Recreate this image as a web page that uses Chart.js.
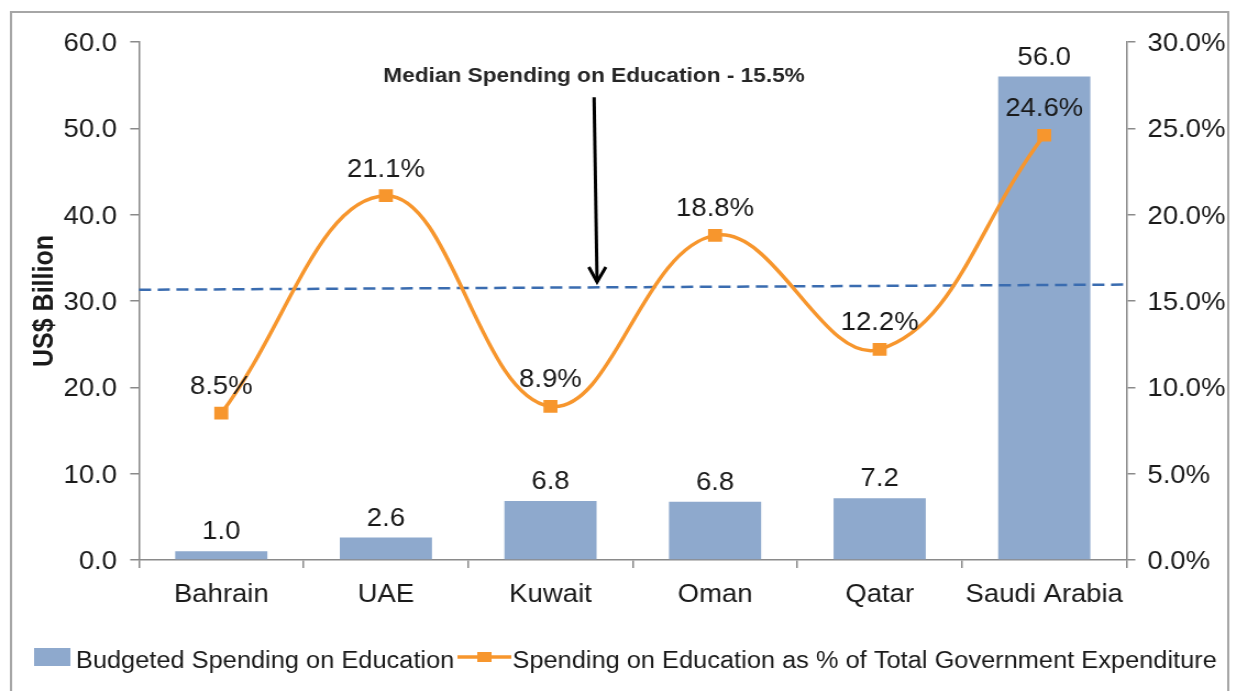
<!DOCTYPE html>
<html><head><meta charset="utf-8">
<script src="https://cdn.jsdelivr.net/npm/chart.js@4/dist/chart.umd.min.js"></script>
<style>
html,body{margin:0;padding:0;background:#fff;overflow:hidden;width:1236px;height:691px;}
#c{display:block;transform:scaleX(1.0996);transform-origin:0 0;}
</style></head><body>
<canvas id="c" width="1124" height="691"></canvas>
<script>
const categories = ['Bahrain', 'UAE', 'Kuwait', 'Oman', 'Qatar', 'Saudi Arabia'];
const spendingBillion = [1.0, 2.6, 6.84, 6.75, 7.15, 56.0];
const spendingPct = [8.5, 21.1, 8.9, 18.8, 12.2, 24.6];
const leftTicks = [0, 10, 20, 30, 40, 50, 60];
const rightTicks = [0, 5, 10, 15, 20, 25, 30];
const medianLine = [15.65, 15.95];
const medianLabel = 'Median Spending on Education - 15.5%';
const seriesNames = ['Budgeted Spending on Education', 'Spending on Education as % of Total Government Expenditure'];
const axisTitle = 'US$ Billion';

const FAM = "'Liberation Sans', Arial, Helvetica, sans-serif";
const TXT = '#1a1a1a';
const AX = '#8a8a8a';
const BLUE = '#8EA9CD';
const ORANGE = '#F7962D';
const tickFont = {family: FAM, size: 25};

const deco = {
  id: 'deco',
  beforeDraw(chart) {
    const ctx = chart.ctx;
    ctx.save();
    ctx.fillStyle = '#fff';
    ctx.fillRect(0, 0, chart.width, chart.height);
    ctx.strokeStyle = '#a6a6a6';
    ctx.lineWidth = 2;
    ctx.strokeRect(10, 12, 1107, 720);
    ctx.restore();
  },
  afterDatasetDraw(chart, args) {
    if (args.index !== 0) return;
    const ctx = chart.ctx, a = chart.chartArea, y1 = chart.scales.y1;
    ctx.save();
    ctx.strokeStyle = '#3A6CB0';
    ctx.lineWidth = 2.5;
    ctx.setLineDash([11, 6]);
    ctx.beginPath();
    ctx.moveTo(a.left, y1.getPixelForValue(medianLine[0]));
    ctx.lineTo(a.right, y1.getPixelForValue(medianLine[1]));
    ctx.stroke();
    ctx.restore();
  },
  afterDatasetsDraw(chart) {
    const ctx = chart.ctx;
    const x = chart.scales.x, y1 = chart.scales.y1;
    ctx.save();
    ctx.fillStyle = TXT;
    ctx.font = `25px ${FAM}`;
    ctx.textAlign = 'center';
    ctx.textBaseline = 'alphabetic';
    chart.getDatasetMeta(0).data.forEach((el, i) => {
      ctx.fillText(spendingBillion[i].toFixed(1), el.x, el.y - 12);
    });
    chart.getDatasetMeta(1).data.forEach((el, i) => {
      ctx.fillText(spendingPct[i].toFixed(1) + '%', el.x, el.y - 19);
    });
    // annotation text + arrow
    ctx.font = `bold 20.6px ${FAM}`;
    ctx.fillStyle = '#262626';
    ctx.fillText(medianLabel, x.getPixelForValue(2.265), y1.getPixelForValue(27.7));
    const ax0 = x.getPixelForValue(2.265), ay0 = y1.getPixelForValue(26.8);
    const ax1 = x.getPixelForValue(2.283), ay1 = y1.getPixelForValue(16.1);
    ctx.strokeStyle = '#000';
    ctx.lineWidth = 3;
    ctx.beginPath();
    ctx.moveTo(ax0, ay0); ctx.lineTo(ax1, ay1);
    ctx.stroke();
    ctx.beginPath();
    ctx.moveTo(ax1 - 7.5, ay1 - 15); ctx.lineTo(ax1, ay1); ctx.lineTo(ax1 + 8, ay1 - 15);
    ctx.stroke();
    // legend
    ctx.textAlign = 'left';
    ctx.font = `23.1px ${FAM}`;
    ctx.fillStyle = BLUE;
    ctx.fillRect(31, 648, 33, 18);
    ctx.fillStyle = TXT;
    ctx.fillText(seriesNames[0], 69, 668);
    ctx.strokeStyle = ORANGE;
    ctx.lineWidth = 3.5;
    ctx.beginPath(); ctx.moveTo(416, 657); ctx.lineTo(465, 657); ctx.stroke();
    ctx.fillStyle = ORANGE;
    ctx.fillRect(434, 652, 13, 10);
    ctx.fillStyle = TXT;
    ctx.fillText(seriesNames[1], 466, 668);
    ctx.restore();
  }
};

new Chart(document.getElementById('c'), {
  data: {
    labels: categories,
    datasets: [
      {type: 'bar', label: seriesNames[0], data: spendingBillion, yAxisID: 'y',
       backgroundColor: BLUE, barPercentage: 0.56, categoryPercentage: 1, order: 2},
      {type: 'line', label: seriesNames[1], data: spendingPct, yAxisID: 'y1',
       borderColor: ORANGE, backgroundColor: ORANGE, borderWidth: 3.5, tension: 0.4,
       pointStyle: 'rect', pointRadius: 9, pointBorderWidth: 0, pointBackgroundColor: ORANGE, order: 1}
    ]
  },
  options: {
    responsive: false, animation: false, devicePixelRatio: 1,
    layout: {padding: {left: 22, top: 42, right: 0, bottom: 0}},
    plugins: {legend: {display: false}, tooltip: {enabled: false}},
    scales: {
      x: {
        grid: {display: true, drawOnChartArea: false, drawTicks: true, tickLength: 8, color: AX, lineWidth: 1.5},
        border: {display: true, color: AX, width: 1.5},
        ticks: {font: tickFont, color: TXT, padding: 12, maxRotation: 0, autoSkip: false},
        afterFit(s) { s.height = 131; }
      },
      y: {
        position: 'left', min: 0, max: 60,
        afterBuildTicks(s) { s.ticks = leftTicks.map(v => ({value: v})); },
        ticks: {font: tickFont, color: TXT, padding: 12, labelOffset: 2, callback: v => Number(v).toFixed(1)},
        grid: {display: true, drawOnChartArea: false, drawTicks: true, tickLength: 8, color: AX, lineWidth: 1.5},
        border: {display: true, color: AX, width: 1.5},
        title: {display: true, text: axisTitle, color: TXT, font: {family: FAM, size: 25, weight: 'bold'}, padding: {top: 4, bottom: 4}},
        afterFit(s) { s.width = 104.4; }
      },
      y1: {
        position: 'right', min: 0, max: 30,
        afterBuildTicks(s) { s.ticks = rightTicks.map(v => ({value: v})); },
        ticks: {font: tickFont, color: TXT, padding: 11, labelOffset: 2, callback: v => Number(v).toFixed(1) + '%'},
        grid: {display: true, drawOnChartArea: false, drawTicks: true, tickLength: 8, color: AX, lineWidth: 1.5},
        border: {display: true, color: AX, width: 1.5},
        afterFit(s) { s.width = 99.5; }
      }
    }
  },
  plugins: [deco]
});
</script>
</body></html>
